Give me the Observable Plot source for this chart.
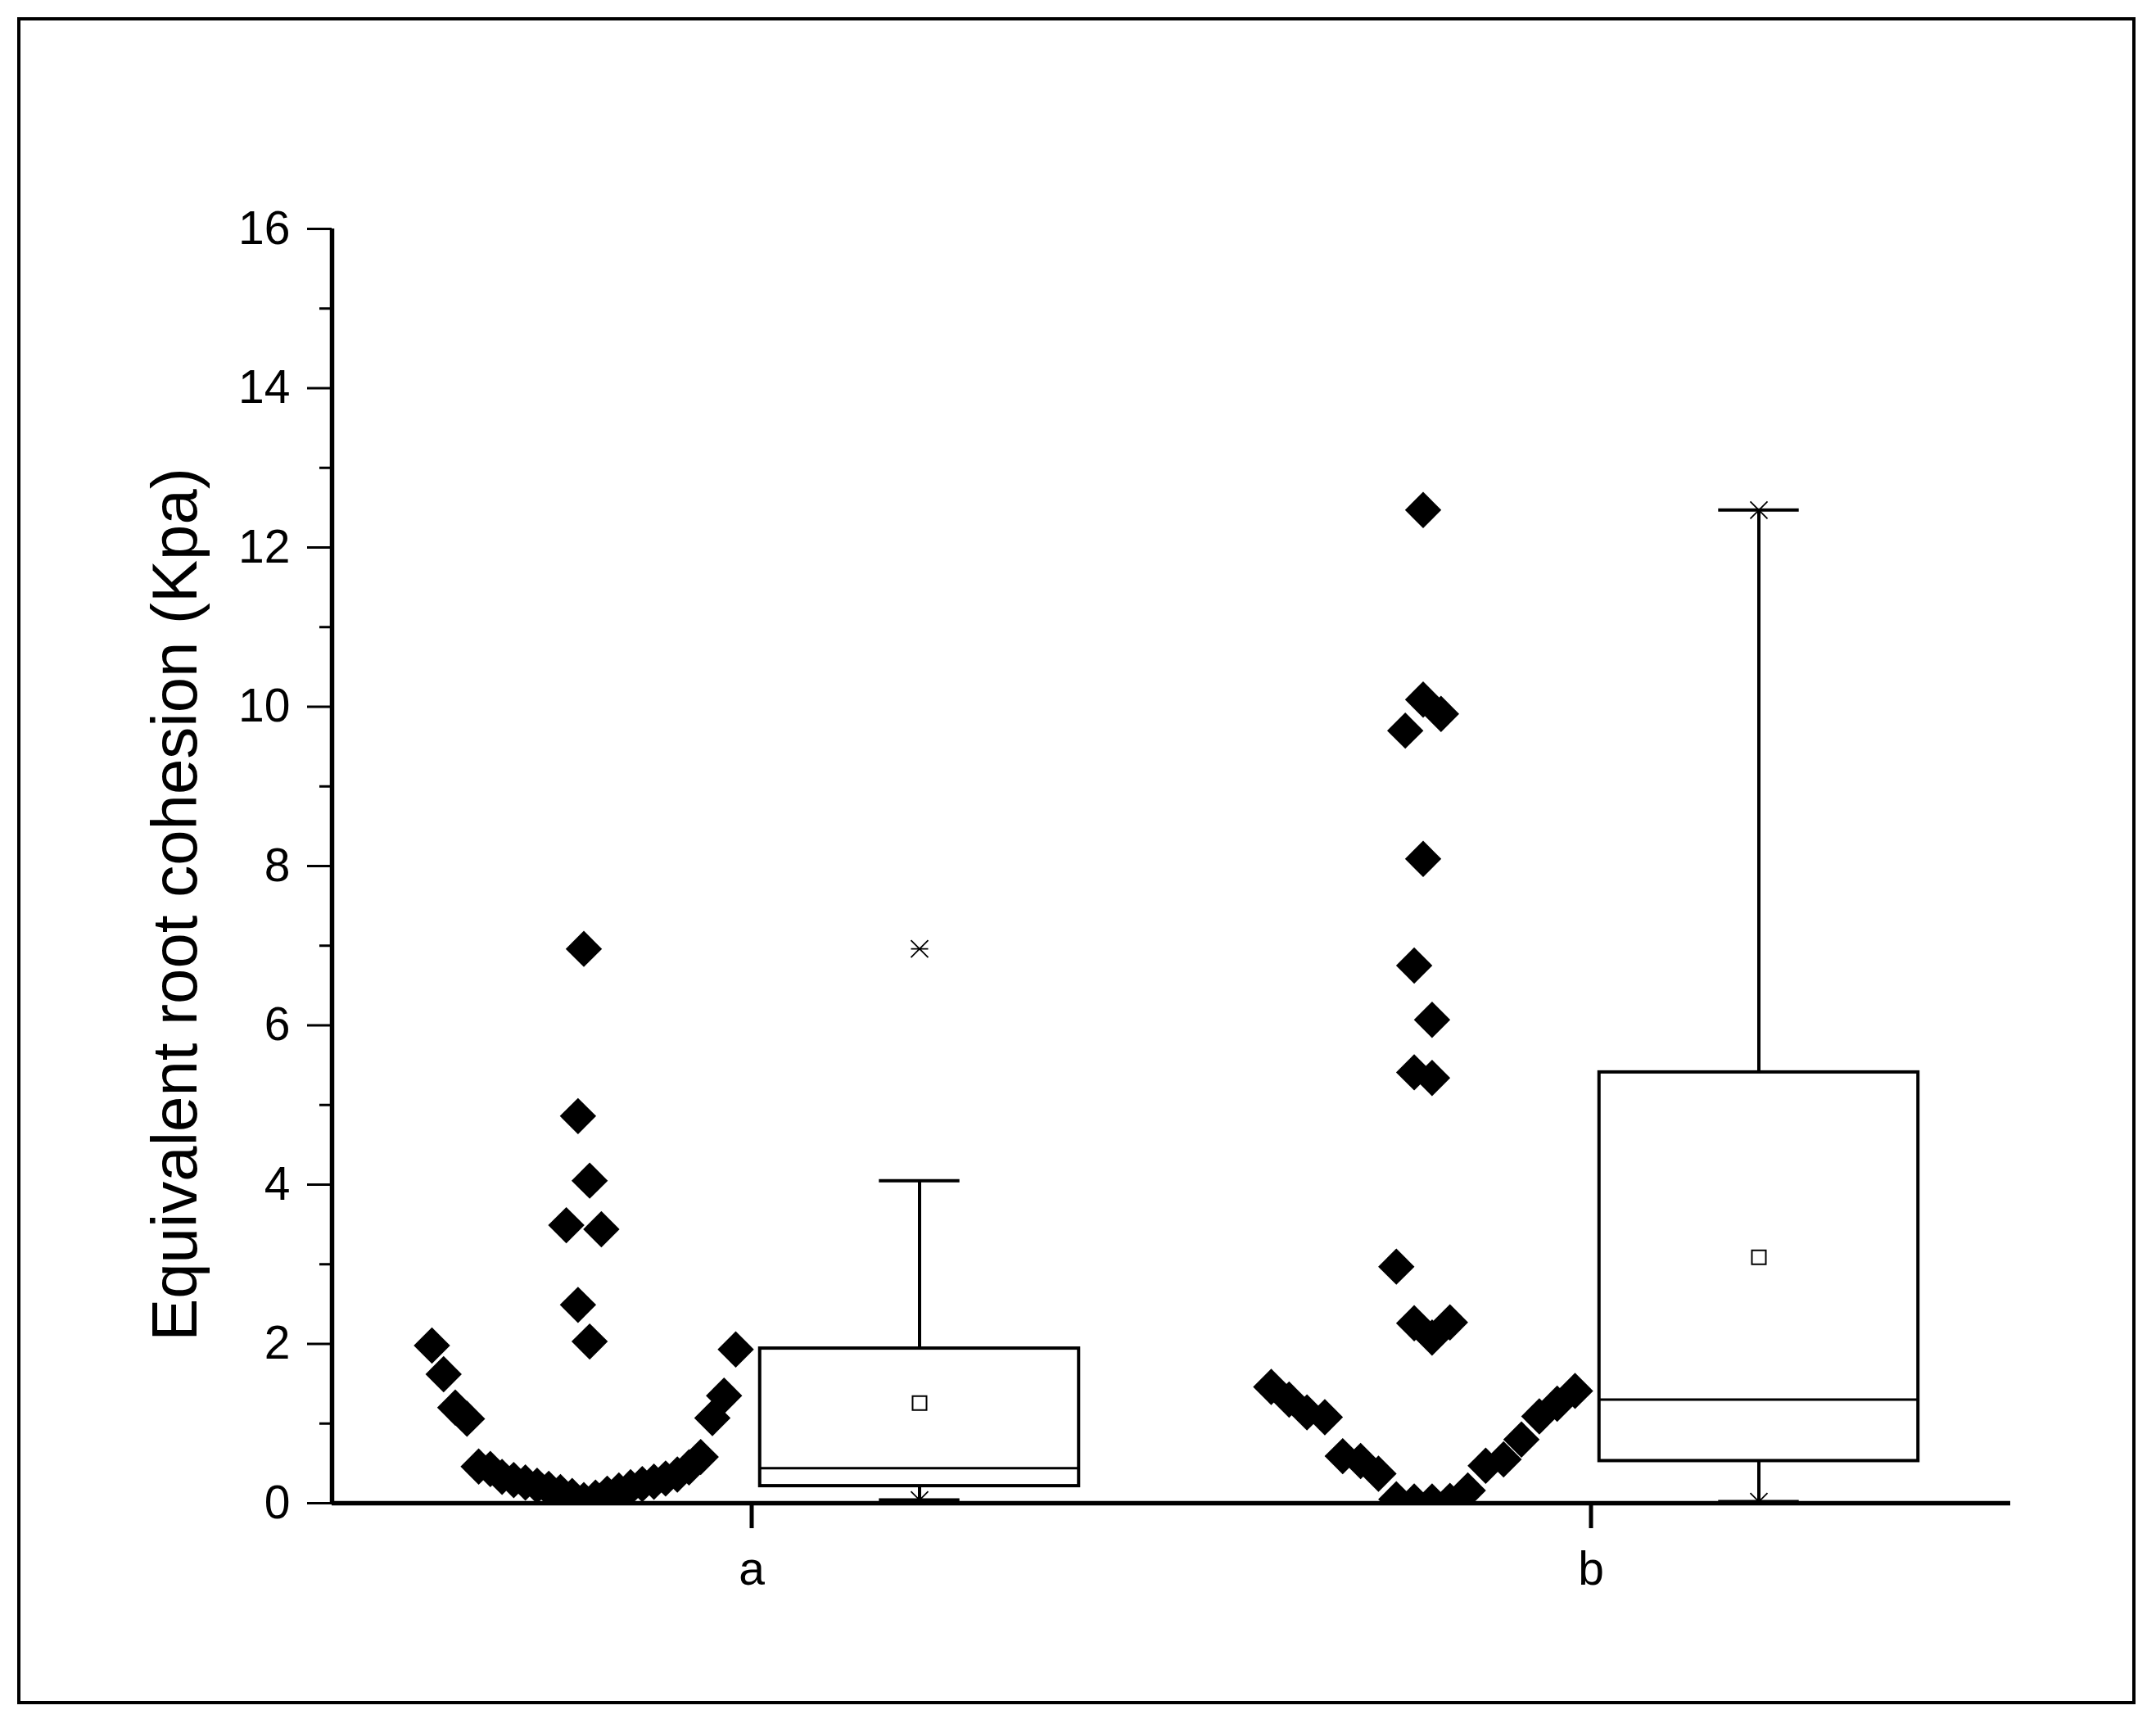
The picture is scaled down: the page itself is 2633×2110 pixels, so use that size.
<!DOCTYPE html>
<html>
<head>
<meta charset="utf-8">
<script src="https://cdn.jsdelivr.net/npm/d3@7"></script>
<script src="https://cdn.jsdelivr.net/npm/@observablehq/plot@0.6"></script>
<style>
html, body { margin: 0; padding: 0; background: #fff; }
#wrap { position: relative; width: 2633px; height: 2110px; }
#border { position: absolute; left: 21px; top: 21px; width: 2579px; height: 2052px; border: 4px solid #000; pointer-events: none; }
</style>
</head>
<body>
<div id="wrap"><div id="border"></div></div>
<script>
// ---- data ----
const categories = ["a", "b"];
const valuesA = [0.04, 0.07, 0.09, 0.12, 0.14, 0.16, 0.18, 0.20, 0.22, 0.24, 0.26, 0.27, 0.29, 0.31,
  0.33, 0.36, 0.43, 0.45, 0.46, 0.58, 1.06, 1.07, 1.20, 1.35, 1.62, 1.93, 1.98,
  2.03, 2.49, 3.44, 3.49, 4.05, 4.86, 6.96];
const valuesB = [0.02, 0.02, 0.03, 0.05, 0.16, 0.37, 0.47, 0.53, 0.55, 0.59, 0.80, 1.08, 1.09, 1.14,
  1.25, 1.30, 1.41, 1.46,
  2.08, 2.26, 2.27, 2.97, 5.34, 5.41, 6.07, 6.75, 8.09, 9.91, 9.70, 10.09, 12.47];
const yTicks = [0, 2, 4, 6, 8, 10, 12, 14, 16];
const yMinorTicks = [1, 3, 5, 7, 9, 11, 13, 15];
const yLabel = "Equivalent root cohesion (Kpa)";

// ---- layout parameters ----
const binWidth = 2;        // histogram bin used to spread the points
const groupOffset = 0.2;   // distance of scatter / box from category tick
const spreadHalf = 0.181;  // half width of the widest bin of points
const boxHalf = 0.19;
const capHalf = 0.048;

function layoutPoints(values, ci) {
  const bins = d3.group(values, v => Math.floor(v / binWidth));
  const nmax = d3.max(bins.values(), b => b.length);
  const step = 2 * spreadHalf / (nmax - 1);
  const out = [];
  for (const b of bins.values()) {
    const n = b.length;
    b.forEach((v, j) => {
      let k;
      if (n % 2) k = j === 0 ? 0 : Math.ceil(j / 2) * (j % 2 ? 1 : -1);
      else k = (Math.floor(j / 2) + 0.5) * (j % 2 ? -1 : 1);
      out.push({cat: ci, value: v, x: ci - groupOffset + k * step});
    });
  }
  return out;
}

function quant(sorted, p) {
  const h = (sorted.length + 1) * p;
  const lo = Math.floor(h), f = h - lo;
  if (lo < 1) return sorted[0];
  if (lo >= sorted.length) return sorted[sorted.length - 1];
  return sorted[lo - 1] + f * (sorted[lo] - sorted[lo - 1]);
}

function boxStats(values, ci) {
  const s = values.slice().sort((a, b) => a - b);
  const q1 = quant(s, 0.25), med = quant(s, 0.5), q3 = quant(s, 0.75);
  const iqr = q3 - q1;
  const hi = d3.max(s.filter(v => v <= q3 + 1.5 * iqr));
  const lo = d3.min(s.filter(v => v >= q1 - 1.5 * iqr));
  return {cat: ci, cx: ci + groupOffset, q1, med, q3, hi, lo,
    mean: d3.mean(s), min: s[0], max: s[s.length - 1]};
}

const points = [...layoutPoints(valuesA, 0), ...layoutPoints(valuesB, 1)];
const stats = [boxStats(valuesA, 0), boxStats(valuesB, 1)];
const extremes = stats.flatMap(d => [{cx: d.cx, v: d.min}, {cx: d.cx, v: d.max}]);

const starX = {
  draw(ctx, size) {
    const r = Math.sqrt(size) / 2;
    ctx.moveTo(-r, -r); ctx.lineTo(r, r);
    ctx.moveTo(-r, r); ctx.lineTo(r, -r);
    ctx.moveTo(-r, 0); ctx.lineTo(r, 0);
  }
};

const font = "Arial, 'Liberation Sans', sans-serif";

const chart = Plot.plot({
  width: 2633,
  height: 2110,
  marginLeft: 405,
  marginRight: 178,
  marginTop: 279,
  marginBottom: 275,
  style: {fontFamily: font, background: "white", color: "black", overflow: "visible"},
  x: {type: "linear", domain: [-0.5, categories.length - 0.5]},
  y: {domain: [yTicks[0], yTicks[yTicks.length - 1]]},
  marks: [
    // scatter of raw values
    Plot.dot(points, {x: "x", y: "value", symbol: "diamond2", r: 20, fill: "black", stroke: "none", clip: true}),
    // whiskers
    Plot.ruleX(stats, {x: "cx", y1: "q3", y2: "hi", stroke: "black", strokeWidth: 4}),
    Plot.ruleX(stats, {x: "cx", y1: "q1", y2: "lo", stroke: "black", strokeWidth: 4}),
    Plot.ruleY(stats, {y: "hi", x1: d => d.cx - capHalf, x2: d => d.cx + capHalf, stroke: "black", strokeWidth: 4}),
    Plot.ruleY(stats, {y: "lo", x1: d => d.cx - capHalf, x2: d => d.cx + capHalf, stroke: "black", strokeWidth: 4}),
    // box
    Plot.rect(stats, {x1: d => d.cx - boxHalf, x2: d => d.cx + boxHalf, y1: "q1", y2: "q3",
      fill: "white", stroke: "black", strokeWidth: 4}),
    Plot.ruleY(stats, {y: "med", x1: d => d.cx - boxHalf, x2: d => d.cx + boxHalf, stroke: "black", strokeWidth: 3}),
    // mean
    Plot.dot(stats, {x: "cx", y: "mean", symbol: "square", r: 9.6, fill: "white", stroke: "black", strokeWidth: 2}),
    // min / max markers
    Plot.dot(extremes, {x: "cx", y: "v", symbol: starX, r: 11.85, fill: "none", stroke: "black", strokeWidth: 1.8, clip: true}),
    // axes
    Plot.axisY({ticks: yMinorTicks, tickSize: 15, tickFormat: () => "", strokeWidth: 3, label: null}),
    Plot.axisY({ticks: yTicks, tickSize: 30, tickPadding: 21, tickFormat: d3.format("d"), fontSize: 57, strokeWidth: 3, label: null}),
    Plot.axisX({ticks: d3.range(categories.length), tickFormat: i => categories[i], tickSize: 31, tickPadding: 28,
      fontSize: 57, strokeWidth: 5, label: null}),
    Plot.ruleY([0], {stroke: "black", strokeWidth: 5.5}),
    Plot.ruleX([-0.5], {y1: yTicks[0], y2: yTicks[yTicks.length - 1], stroke: "black", strokeWidth: 5.5}),
    // y axis title
    Plot.text([yLabel], {text: d => d, frameAnchor: "left", textAnchor: "middle", rotate: -90, dx: -190, dy: 47,
      fontSize: 78, fill: "black"})
  ]
});

document.getElementById("wrap").insertBefore(chart, document.getElementById("border"));
</script>
</body>
</html>
